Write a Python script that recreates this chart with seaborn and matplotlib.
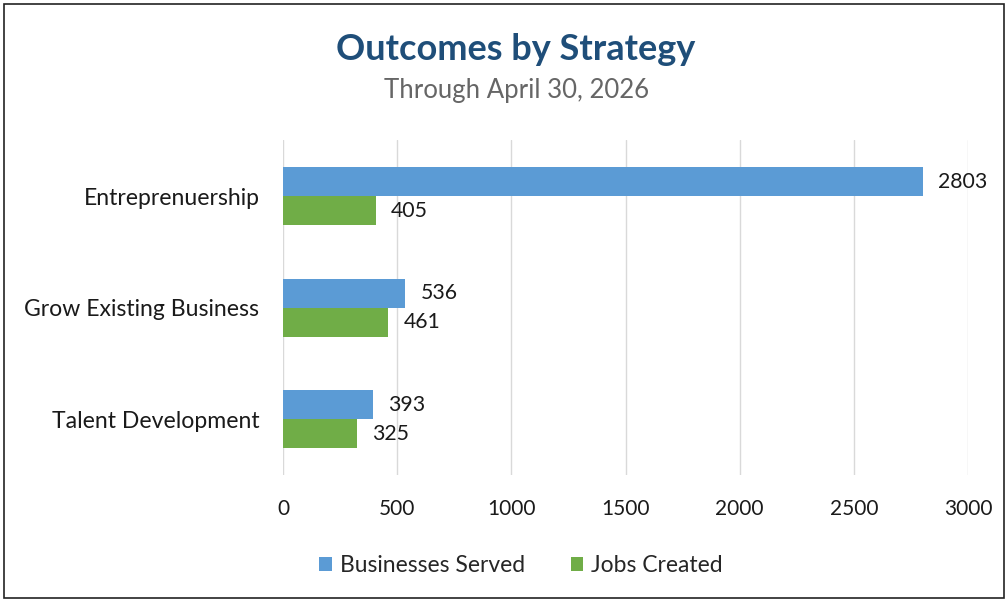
import pandas as pd
import seaborn as sns
import matplotlib.pyplot as plt
from matplotlib.patches import Rectangle

# chart values
strategies = ["Entreprenuership", "Grow Existing Business", "Talent Development"]
businesses_served = [2803, 536, 393]
jobs_created = [405, 461, 325]
series_names = ["Businesses Served", "Jobs Created"]
x_ticks = [0, 500, 1000, 1500, 2000, 2500, 3000]

df = pd.DataFrame({
    "Strategy": strategies * 2,
    "Value": businesses_served + jobs_created,
    "Series": [series_names[0]] * 3 + [series_names[1]] * 3,
})

sns.set_style("white")
plt.rcParams["font.family"] = ["Lato", "DejaVu Sans"]

fig = plt.figure(figsize=(10.08, 6.02), dpi=100)
ax = fig.add_axes([0.2808, 0.211, 0.6796, 0.556])

sns.barplot(data=df, y="Strategy", x="Value", hue="Series", orient="h",
            palette=["#5B9BD5", "#70AD47"], width=0.52, saturation=1,
            linewidth=0, ax=ax, legend=True)

for cont in ax.containers:
    ax.bar_label(cont, padding=11, fontsize=15.3, color="#1a1a1a")

ax.set_xlim(0, 3000)
ax.set_ylim(2.5, -0.5)
ax.set_xticks(x_ticks)
ax.set_xticklabels([str(t) for t in x_ticks], fontsize=15, color="#1a1a1a")
ax.tick_params(axis="y", labelsize=16.6, labelcolor="#1a1a1a", length=0, pad=17)
ax.tick_params(axis="x", length=0, pad=17)
ax.grid(axis="x", color="#d9d9d9", linewidth=1)
ax.set_axisbelow(True)
for s in ["top", "right", "bottom", "left"]:
    ax.spines[s].set_visible(False)
ax.set_xlabel("")
ax.set_ylabel("")

handles, labels = ax.get_legend_handles_labels()
ax.legend_.remove()
fig.legend(handles, labels, loc="center", bbox_to_anchor=(0.517, 0.06), ncol=2,
           frameon=False, fontsize=16.5, handlelength=0.55, handleheight=0.55,
           handletextpad=0.35, columnspacing=2.0)

fig.text(0.512, 0.918, "Outcomes by Strategy", ha="center", va="center",
         fontsize=26, fontweight="bold", color="#1F4E79")
fig.text(0.512, 0.85, "Through April 30, 2026", ha="center", va="center",
         fontsize=18.5, color="#666666")

fig.patches.append(Rectangle((0.004, 0.006), 0.992, 0.988, transform=fig.transFigure,
                             fill=False, edgecolor="#222222", linewidth=1.2))

fig.savefig("out.png", dpi=100)
